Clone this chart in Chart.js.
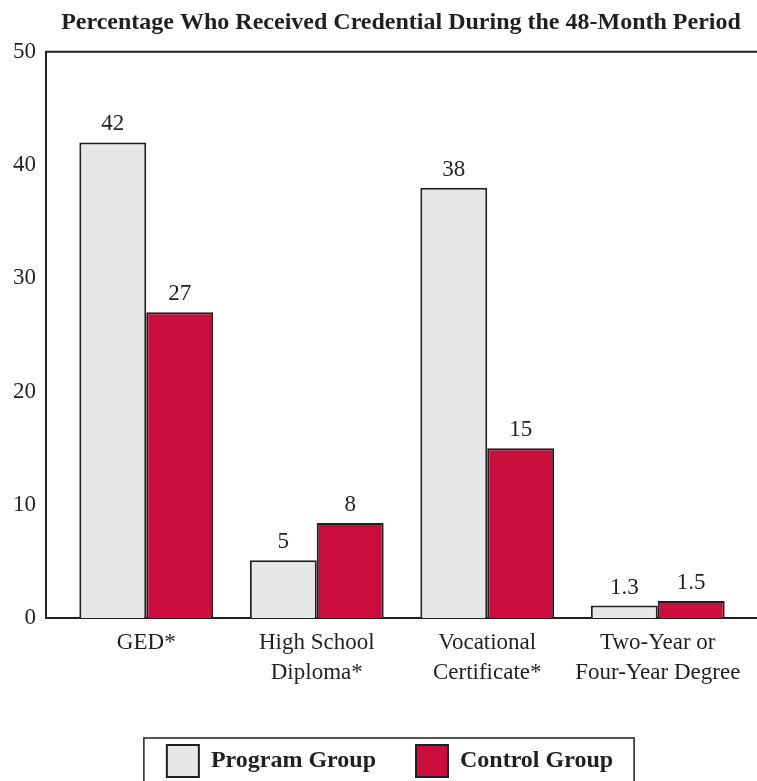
<!DOCTYPE html>
<html>
<head>
<meta charset="utf-8">
<script src="https://cdn.jsdelivr.net/npm/chart.js@4.4.1/dist/chart.umd.min.js"></script>
<style>
    html, body {
        margin: 0;
        padding: 0;
        background: #fff;
        overflow: hidden;
    }
    canvas {
        display: block;
    }
</style>
</head>
<body>
<canvas id="credentials" width="757" height="787"></canvas>
<script>
const categories = [
    ['GED*'],
    ['High School', 'Diploma*'],
    ['Vocational', 'Certificate*'],
    ['Two-Year or', 'Four-Year Degree']
];
const seriesNames = ['Program Group', 'Control Group'];
const programValues = [42, 5.1, 38, 1.1];
const controlValues = [27, 8.4, 15, 1.5];
const programLabels = ['42', '5', '38', '1.3'];
const controlLabels = ['27', '8', '15', '1.5'];
const yMin = 0;
const yMax = 50;
const yStep = 10;

const ink = '#231f20';
const serif = '"Liberation Serif", "Times New Roman", serif';

Chart.defaults.color = ink;
Chart.defaults.font.family = serif;

// axis frame: left line, top line and baseline running to the right edge
const framePlugin = {
    id: 'frame',
    beforeDatasetsDraw(chart) {
        const {ctx, chartArea, scales} = chart;
        const left = chartArea.left - 15;
        const top = scales.y.getPixelForValue(yMax);
        const bottom = scales.y.getPixelForValue(yMin);
        ctx.save();
        ctx.strokeStyle = ink;
        ctx.lineWidth = 2;
        ctx.beginPath();
        ctx.moveTo(chart.width, top);
        ctx.lineTo(left, top);
        ctx.lineTo(left, bottom);
        ctx.lineTo(chart.width, bottom);
        ctx.stroke();
        ctx.restore();
    }
};

// numbers above the bars
const valueLabels = {
    id: 'valueLabels',
    afterDatasetsDraw(chart) {
        const {ctx} = chart;
        const texts = [programLabels, controlLabels];
        ctx.save();
        ctx.fillStyle = ink;
        ctx.font = '23px ' + serif;
        ctx.textAlign = 'center';
        ctx.textBaseline = 'alphabetic';
        chart.data.datasets.forEach((dataset, i) => {
            chart.getDatasetMeta(i).data.forEach((bar, j) => {
                ctx.fillText(texts[i][j], bar.x, bar.y - 12);
            });
        });
        ctx.restore();
    }
};

// title and legend are set a bit right of centre, legend inside a frame
const legendFrame = {
    id: 'legendFrame',
    afterLayout(chart) {
        const dx = 390 - (chart.legend.left + chart.legend.right) / 2;
        chart.legend.left += dx;
        chart.legend.right += dx;

        const tx = 401 - (chart.titleBlock.left + chart.titleBlock.right) / 2;
        chart.titleBlock.left += tx;
        chart.titleBlock.right += tx;
    },
    afterDraw(chart) {
        const boxes = chart.legend.legendHitBoxes;
        if (!boxes || !boxes.length) {
            return;
        }
        const {ctx} = chart;
        const first = boxes[0];
        const last = boxes[boxes.length - 1];
        const x1 = first.left - 23;
        const x2 = last.left + last.width + 21;
        const y1 = first.top - 7;
        ctx.save();
        ctx.strokeStyle = ink;
        ctx.lineWidth = 1.5;
        ctx.beginPath();
        ctx.moveTo(x1, chart.height + 5);
        ctx.lineTo(x1, y1);
        ctx.lineTo(x2, y1);
        ctx.lineTo(x2, chart.height + 5);
        ctx.stroke();
        ctx.restore();
    }
};

new Chart(
    document.getElementById('credentials'),
    {
        type: 'bar',
        data: {
            labels: categories,
            datasets: [
                {
                    label: seriesNames[0],
                    data: programValues,
                    backgroundColor: '#e6e7e8',
                    borderColor: ink,
                    borderWidth: 2,
                    categoryPercentage: 0.785,
                    barPercentage: 1
                },
                {
                    label: seriesNames[1],
                    data: controlValues,
                    backgroundColor: '#cc0e3f',
                    borderColor: ink,
                    borderWidth: 2,
                    categoryPercentage: 0.785,
                    barPercentage: 1
                }
            ]
        },
        options: {
            responsive: false,
            animation: false,
            layout: {
                padding: {left: 0, right: 14, top: 0, bottom: 0}
            },
            scales: {
                x: {
                    grid: {display: false, drawTicks: false},
                    border: {display: false},
                    ticks: {
                        color: ink,
                        padding: 10,
                        maxRotation: 0,
                        autoSkip: false,
                        font: {size: 23, lineHeight: 1.3}
                    },
                    afterFit(scale) {
                        scale.height = 87;
                    }
                },
                y: {
                    min: yMin,
                    max: yMax,
                    grid: {display: false, drawTicks: false},
                    border: {display: false},
                    ticks: {
                        stepSize: yStep,
                        color: ink,
                        padding: 25,
                        font: {size: 23}
                    },
                    afterFit(scale) {
                        scale.width = 61;
                    }
                }
            },
            plugins: {
                title: {
                    display: true,
                    text: 'Percentage Who Received Credential During the 48-Month Period',
                    color: ink,
                    font: {size: 24, weight: 'bold', lineHeight: 1.2},
                    padding: {top: 8, bottom: 15}
                },
                legend: {
                    position: 'bottom',
                    labels: {
                        boxWidth: 32,
                        boxHeight: 32,
                        padding: 40,
                        color: ink,
                        font: {size: 24, weight: 'bold'}
                    }
                },
                tooltip: {enabled: false}
            }
        },
        plugins: [framePlugin, valueLabels, legendFrame]
    }
);
</script>
</body>
</html>
